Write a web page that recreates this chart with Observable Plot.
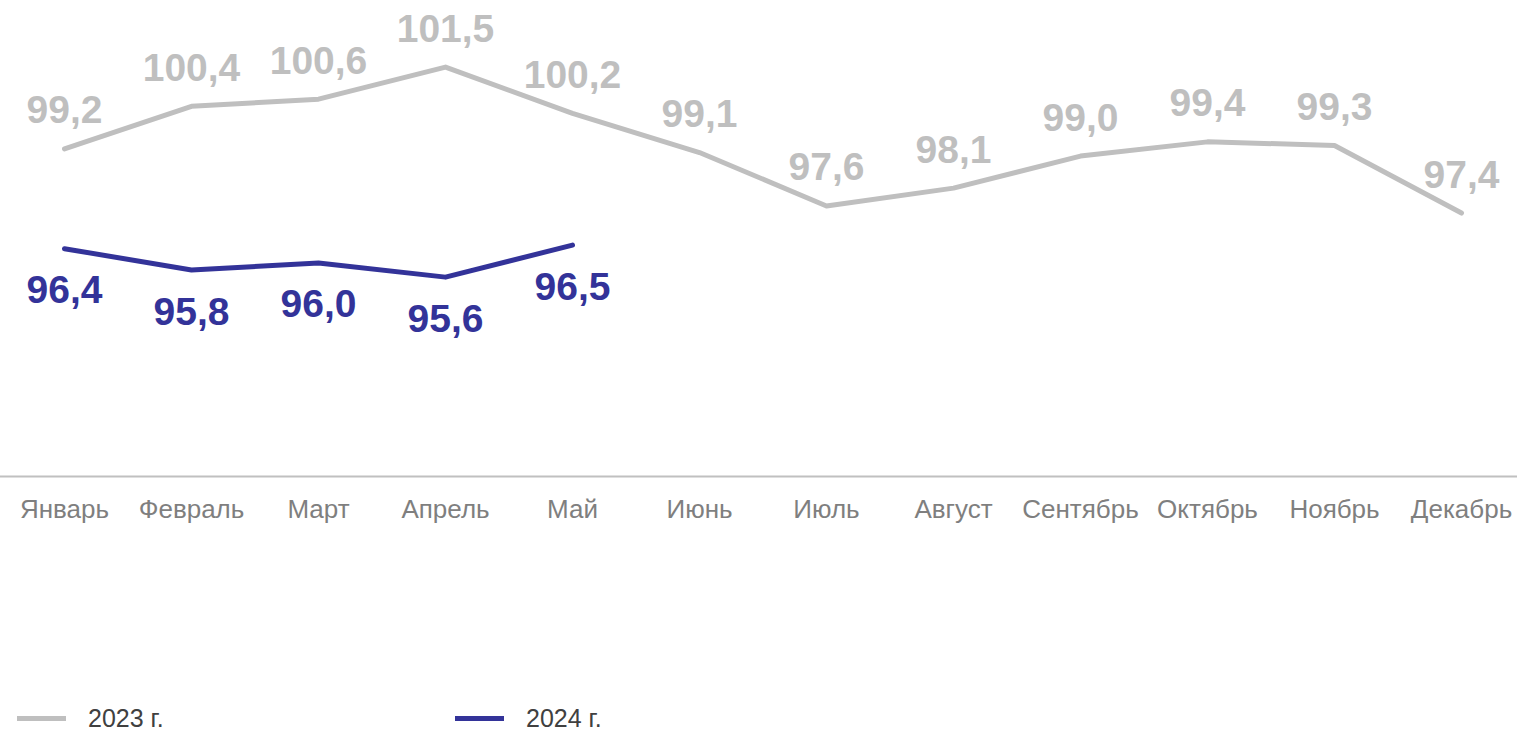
<!DOCTYPE html>
<html>
<head>
<meta charset="utf-8">
<script src="https://cdn.jsdelivr.net/npm/d3@7"></script>
<script src="https://cdn.jsdelivr.net/npm/@observablehq/plot@0.6"></script>
<style>
  html, body { margin: 0; padding: 0; background: #fff; }
  body { width: 1517px; height: 729px; overflow: hidden; font-family: "Liberation Sans", Arial, sans-serif; }
  #legend { position: relative; height: 169px; }
  .item { position: absolute; top: 146px; height: 24px; display: flex; align-items: center; font-size: 25px; color: #404040; }
  .swatch { width: 49px; height: 5px; margin-right: 22px; }
</style>
</head>
<body>
<div id="chart"></div>
<div id="legend"></div>
<script>
const months = ["Январь","Февраль","Март","Апрель","Май","Июнь","Июль","Август","Сентябрь","Октябрь","Ноябрь","Декабрь"];
const values2023 = [99.2, 100.4, 100.6, 101.5, 100.2, 99.1, 97.6, 98.1, 99.0, 99.4, 99.3, 97.4];
const values2024 = [96.4, 95.8, 96.0, 95.6, 96.5];
const seriesNames = ["2023 г.", "2024 г."];
const colors = ["#bfbfbf", "#333399"];

const d2023 = months.map((m, i) => ({month: m, value: values2023[i]}));
const d2024 = values2024.map((v, i) => ({month: months[i], value: v}));
const fmt = v => v.toFixed(1).replace(".", ",");

const chart = Plot.plot({
  width: 1517,
  height: 560,
  marginLeft: 0,
  marginRight: 0,
  marginTop: 0,
  marginBottom: 84,
  style: {fontFamily: "'Liberation Sans', Arial, sans-serif", background: "#fff"},
  x: {type: "point", domain: months, range: [62, 1463], padding: 0, axis: null},
  y: {domain: [90, 103], range: [476, 13.2], axis: null},
  marks: [
    Plot.ruleY([90], {stroke: "#c0c0c0", strokeWidth: 2}),
    Plot.text(months, {x: d => d, frameAnchor: "bottom", dy: 33, text: d => d, fontSize: 26, fill: "#7f7f7f", lineAnchor: "middle"}),
    Plot.line(d2023, {x: "month", y: "value", stroke: colors[0], strokeWidth: 5, strokeLinecap: "round", strokeLinejoin: "round"}),
    Plot.line(d2024, {x: "month", y: "value", stroke: colors[1], strokeWidth: 5, strokeLinecap: "round", strokeLinejoin: "round"}),
    Plot.text(d2023, {x: "month", y: "value", text: d => fmt(d.value), dy: -38, fontSize: 39, fontWeight: "bold", fill: colors[0], lineAnchor: "middle"}),
    Plot.text(d2024, {x: "month", y: "value", text: d => fmt(d.value), dy: 42, fontSize: 39, fontWeight: "bold", fill: colors[1], lineAnchor: "middle"})
  ]
});
document.getElementById("chart").appendChild(chart);

const legend = document.getElementById("legend");
const lefts = [17, 455];
seriesNames.forEach((name, i) => {
  const item = document.createElement("div");
  item.className = "item";
  item.style.left = lefts[i] + "px";
  const sw = document.createElement("div");
  sw.className = "swatch";
  sw.style.background = colors[i];
  const t = document.createElement("span");
  t.textContent = name;
  item.appendChild(sw);
  item.appendChild(t);
  legend.appendChild(item);
});
</script>
</body>
</html>
